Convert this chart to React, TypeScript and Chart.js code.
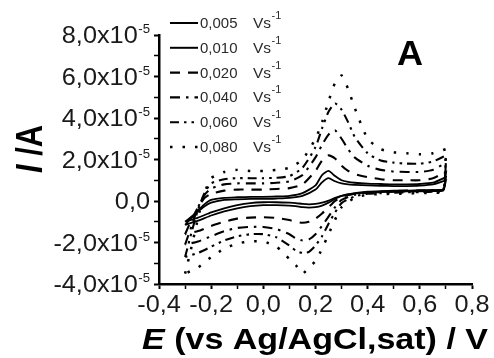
import React, { useEffect, useRef } from 'react';
import { Chart, registerables } from 'chart.js';

Chart.register(...registerables);

// ---------- DATA ----------
const scanRateLabels = ['0,005', '0,010', '0,020', '0,040', '0,060', '0,080'];
const scanRateUnit = 'Vs';
const scanRateUnitExp = '-1';

const CURRENT_UNIT = 1e-5; // currents below are in units of 10^-5 A

const xTickValues = [-0.4, -0.3, -0.2, -0.1, 0, 0.1, 0.2, 0.3, 0.4, 0.5, 0.6, 0.7, 0.8];
const xTickLabels = ['-0,4', '', '-0,2', '', '0,0', '', '0,2', '', '0,4', '', '0,6', '', '0,8'];
const yTickValues = [-4, -3, -2, -1, 0, 1, 2, 3, 4, 5, 6, 7, 8];
const yTickLabels = ['-4,0x10', '', '-2,0x10', '', '0,0', '', '2,0x10', '', '4,0x10', '', '6,0x10', '', '8,0x10'];
const yTickExponents = ['-5', '', '-5', '', '', '', '-5', '', '-5', '', '-5', '', '-5'];

const potentialForward = [-0.3, -0.275, -0.25, -0.225, -0.2, -0.15, -0.1, -0.05, 0, 0.05, 0.1, 0.15, 0.2, 0.225, 0.25, 0.275, 0.3, 0.325, 0.35, 0.4, 0.45, 0.5, 0.55, 0.6, 0.65, 0.7];
const potentialReverse = [0.7, 0.69, 0.65, 0.6, 0.55, 0.5, 0.45, 0.4, 0.35, 0.3, 0.275, 0.25, 0.225, 0.2, 0.175, 0.15, 0.125, 0.1, 0.05, 0, -0.05, -0.1, -0.15, -0.2, -0.25, -0.3];

const current005Forward = [-1.0, -0.75, -0.5, -0.25, -0.08, 0.05, 0.08, 0.1, 0.1, 0.12, 0.15, 0.25, 0.55, 0.9, 1.1, 0.95, 0.85, 0.8, 0.78, 0.75, 0.73, 0.72, 0.72, 0.74, 0.8, 1.0];
const current005Reverse = [1.0, 0.5, 0.48, 0.47, 0.46, 0.45, 0.43, 0.4, 0.35, 0.25, 0.15, 0.02, -0.08, -0.14, -0.16, -0.14, -0.1, -0.08, -0.06, -0.06, -0.1, -0.2, -0.35, -0.55, -0.8, -1.0];

const current010Forward = [-1.15, -0.8, -0.45, -0.15, 0.05, 0.15, 0.18, 0.2, 0.2, 0.22, 0.25, 0.38, 0.75, 1.25, 1.45, 1.2, 1.0, 0.92, 0.88, 0.84, 0.82, 0.8, 0.8, 0.82, 0.88, 1.15];
const current010Reverse = [1.15, 0.55, 0.53, 0.52, 0.5, 0.5, 0.48, 0.45, 0.38, 0.25, 0.1, -0.08, -0.22, -0.3, -0.32, -0.3, -0.25, -0.22, -0.2, -0.2, -0.25, -0.35, -0.5, -0.7, -0.95, -1.15];

const current020Forward = [-1.6, -0.9, -0.3, 0.15, 0.35, 0.5, 0.55, 0.55, 0.55, 0.58, 0.62, 0.8, 1.45, 1.95, 2.2, 2.05, 1.7, 1.45, 1.3, 1.15, 1.05, 1.0, 1.0, 1.0, 1.1, 1.4];
const current020Reverse = [1.4, 0.55, 0.52, 0.5, 0.5, 0.48, 0.46, 0.42, 0.35, 0.2, 0.0, -0.3, -0.6, -0.85, -1.0, -1.05, -1.0, -0.92, -0.82, -0.78, -0.8, -0.85, -1.0, -1.2, -1.45, -1.6];

const current040Forward = [-2.1, -1.2, -0.3, 0.3, 0.6, 0.8, 0.85, 0.85, 0.85, 0.88, 0.95, 1.25, 2.1, 2.7, 3.2, 3.4, 3.0, 2.5, 2.1, 1.7, 1.5, 1.42, 1.4, 1.4, 1.5, 1.85];
const current040Reverse = [1.85, 0.55, 0.5, 0.48, 0.47, 0.45, 0.43, 0.4, 0.3, 0.05, -0.3, -0.75, -1.2, -1.6, -1.85, -1.9, -1.8, -1.6, -1.35, -1.25, -1.25, -1.3, -1.45, -1.7, -1.95, -2.1];

const current060Forward = [-2.7, -1.5, -0.4, 0.4, 0.85, 1.05, 1.1, 1.1, 1.1, 1.12, 1.2, 1.6, 2.6, 3.5, 4.3, 4.7, 4.4, 3.8, 3.1, 2.3, 1.95, 1.85, 1.8, 1.8, 1.9, 2.2];
const current060Reverse = [2.2, 0.5, 0.45, 0.43, 0.42, 0.4, 0.38, 0.35, 0.22, -0.1, -0.55, -1.1, -1.7, -2.15, -2.45, -2.5, -2.4, -2.15, -1.75, -1.6, -1.6, -1.7, -1.9, -2.2, -2.5, -2.7];

const current080Forward = [-3.5, -2.2, -0.8, 0.4, 1.1, 1.4, 1.5, 1.45, 1.45, 1.5, 1.6, 2.0, 3.0, 3.8, 4.8, 5.7, 6.05, 5.4, 4.5, 3.0, 2.5, 2.35, 2.3, 2.25, 2.3, 2.5];
const current080Reverse = [2.5, 0.45, 0.4, 0.38, 0.36, 0.35, 0.33, 0.3, 0.15, -0.3, -0.9, -1.6, -2.3, -2.9, -3.2, -3.5, -3.1, -2.8, -2.2, -1.95, -1.95, -2.05, -2.3, -2.7, -3.2, -3.5];

const forwardSeries = [current005Forward, current010Forward, current020Forward, current040Forward, current060Forward, current080Forward];
const reverseSeries = [current005Reverse, current010Reverse, current020Reverse, current040Reverse, current060Reverse, current080Reverse];

// ---------- STYLES ----------
const lineDashes: number[][] = [[], [], [10, 8], [10, 6, 2.5, 6], [9, 5, 2.5, 5, 2.5, 5], [2.5, 10]];
const lineWidths = [1.8, 1.8, 2.1, 2.1, 2.1, 2.5];

const FONT = '"Liberation Sans", Arial, sans-serif';
const TEXT_COLOR = '#1a1a1a';
const STRETCH = 1.1;

function drawText(
  ctx: CanvasRenderingContext2D,
  text: string,
  x: number,
  y: number,
  font: string,
  align: 'left' | 'right' | 'center',
  sx: number = STRETCH,
  color: string = TEXT_COLOR
) {
  ctx.save();
  ctx.font = font;
  ctx.fillStyle = color;
  ctx.textAlign = 'left';
  ctx.textBaseline = 'alphabetic';
  const w = ctx.measureText(text).width * sx;
  let x0 = x;
  if (align === 'right') x0 = x - w;
  else if (align === 'center') x0 = x - w / 2;
  ctx.translate(x0, y);
  ctx.scale(sx, 1);
  ctx.fillText(text, 0, 0);
  ctx.restore();
  return w;
}

const decorPlugin = {
  id: 'decor',
  afterDraw(chart: any) {
    const ctx: CanvasRenderingContext2D = chart.ctx;
    const xs = chart.scales.x;
    const ys = chart.scales.y;

    // y tick labels
    yTickValues.forEach((v, i) => {
      const label = yTickLabels[i];
      if (!label) return;
      const py = ys.getPixelForValue(v * CURRENT_UNIT);
      const right = ys.right - 9;
      let r = right;
      const exp = yTickExponents[i];
      if (exp) {
        const sw = drawText(ctx, exp, right, py - 2, `12px ${FONT}`, 'right');
        r = right - sw - 0.5;
      }
      drawText(ctx, label, r, py + 8, `23px ${FONT}`, 'right');
    });

    // x tick labels
    xTickValues.forEach((v, i) => {
      const label = xTickLabels[i];
      if (!label) return;
      const px = xs.getPixelForValue(v);
      drawText(ctx, label, px, xs.top + 28, `23px ${FONT}`, 'center');
    });

    // x title: E (vs Ag/AgCl,sat) / V
    {
      ctx.save();
      const f1 = `italic bold 30px ${FONT}`;
      const f2 = `bold 30px ${FONT}`;
      const t1 = 'E';
      const t2 = ' (vs Ag/AgCl,sat) / V';
      ctx.font = f1;
      const w1 = ctx.measureText(t1).width;
      ctx.font = f2;
      const w2 = ctx.measureText(t2).width;
      const left = 142;
      const right = 488;
      const sx = (right - left) / (w1 + w2);
      ctx.translate(left, 349);
      ctx.scale(sx, 1);
      ctx.fillStyle = '#000';
      ctx.textBaseline = 'alphabetic';
      ctx.textAlign = 'left';
      ctx.font = f1;
      ctx.fillText(t1, 0, 0);
      ctx.font = f2;
      ctx.fillText(t2, w1, 0);
      ctx.restore();
    }

    // y title: I /A
    {
      ctx.save();
      const f1 = `italic bold 33px ${FONT}`;
      const f2 = `bold 33px ${FONT}`;
      const t1 = 'I';
      const t2 = ' /A';
      ctx.font = f1;
      const w1 = ctx.measureText(t1).width;
      ctx.font = f2;
      const w2 = ctx.measureText(t2).width;
      const len = 48;
      ctx.translate(42, 173);
      ctx.rotate(-Math.PI / 2);
      ctx.scale(len / (w1 + w2), 1.1);
      ctx.fillStyle = '#000';
      ctx.textBaseline = 'alphabetic';
      ctx.textAlign = 'left';
      ctx.font = f1;
      ctx.fillText(t1, 0, 0);
      ctx.font = f2;
      ctx.fillText(t2, w1, 0);
      ctx.restore();
    }

    // panel label
    drawText(ctx, 'A', 397, 65, `bold 35px ${FONT}`, 'left', 1.03, '#000');

    // legend
    chart.data.datasets.forEach((ds: any, i: number) => {
      const cy = 23 + i * 24.8;
      ctx.save();
      ctx.strokeStyle = '#000';
      ctx.lineWidth = Math.max(2, ds.borderWidth);
      ctx.setLineDash(ds.borderDash || []);
      ctx.lineCap = 'butt';
      ctx.beginPath();
      ctx.moveTo(170, cy);
      ctx.lineTo(198, cy);
      ctx.stroke();
      ctx.restore();
      drawText(ctx, scanRateLabels[i], 200, cy + 5, `14px ${FONT}`, 'left', 1.07, '#2b2b2b');
      const wv = drawText(ctx, scanRateUnit, 253, cy + 5, `14.5px ${FONT}`, 'left', 1.07, '#2b2b2b');
      drawText(ctx, scanRateUnitExp, 253 + wv + 0.5, cy - 4, `11px ${FONT}`, 'left', 1.0, '#2b2b2b');
    });
  },
};

const isMajorX = (v: number) => Math.round(v * 10) % 2 === 0;
const isMajorY = (v: number) => Math.round(v / CURRENT_UNIT) % 2 === 0;

export default function App() {
  const ref = useRef<HTMLCanvasElement>(null);

  useEffect(() => {
    const datasets = scanRateLabels.map((label, i) => {
      const pts = [
        ...potentialForward.map((e, k) => ({ x: e, y: forwardSeries[i][k] * CURRENT_UNIT })),
        ...potentialReverse.map((e, k) => ({ x: e, y: reverseSeries[i][k] * CURRENT_UNIT })),
      ];
      return {
        label,
        data: pts,
        showLine: true,
        borderColor: '#000',
        backgroundColor: '#000',
        borderWidth: lineWidths[i],
        borderDash: lineDashes[i],
        borderCapStyle: 'butt' as const,
        pointRadius: 0,
        pointHoverRadius: 0,
        tension: 0.2,
        fill: false,
      };
    });

    const chart = new Chart(ref.current as HTMLCanvasElement, {
      type: 'scatter',
      data: { datasets },
      options: {
        animation: false,
        responsive: false,
        devicePixelRatio: 1,
        events: [],
        layout: { padding: { top: 35, right: 22, left: 0, bottom: 0 } },
        plugins: {
          legend: { display: false },
          tooltip: { enabled: false },
          title: { display: false },
        },
        scales: {
          x: {
            type: 'linear',
            min: -0.4,
            max: 0.8,
            afterBuildTicks: (s: any) => {
              s.ticks = xTickValues.map((v) => ({ value: v }));
            },
            afterFit: (s: any) => {
              s.height = 74;
            },
            ticks: { display: false },
            grid: {
              display: true,
              drawOnChartArea: false,
              drawTicks: true,
              tickLength: 5,
              color: '#000',
              tickColor: '#000',
              tickWidth: (c: any) => (isMajorX(c.tick ? c.tick.value : 0) ? 2 : 1.5),
            },
            border: { display: true, color: '#000', width: 2.5 },
          },
          y: {
            type: 'linear',
            min: -4 * CURRENT_UNIT,
            max: 8 * CURRENT_UNIT,
            afterBuildTicks: (s: any) => {
              s.ticks = yTickValues.map((v) => ({ value: v * CURRENT_UNIT }));
            },
            afterFit: (s: any) => {
              s.width = 159;
            },
            ticks: { display: false },
            grid: {
              display: true,
              drawOnChartArea: false,
              drawTicks: true,
              tickLength: 5,
              color: '#000',
              tickColor: '#000',
              tickWidth: (c: any) => (isMajorY(c.tick ? c.tick.value : 0) ? 2 : 1.5),
            },
            border: { display: true, color: '#000', width: 2.5 },
          },
        },
      },
      plugins: [decorPlugin],
    });

    return () => chart.destroy();
  }, []);

  return (
    <div style={{ position: 'fixed', left: 0, top: 0, width: 494, height: 358, background: '#fff' }}>
      <canvas ref={ref} width={494} height={358} style={{ display: 'block', width: 494, height: 358 }} />
    </div>
  );
}
